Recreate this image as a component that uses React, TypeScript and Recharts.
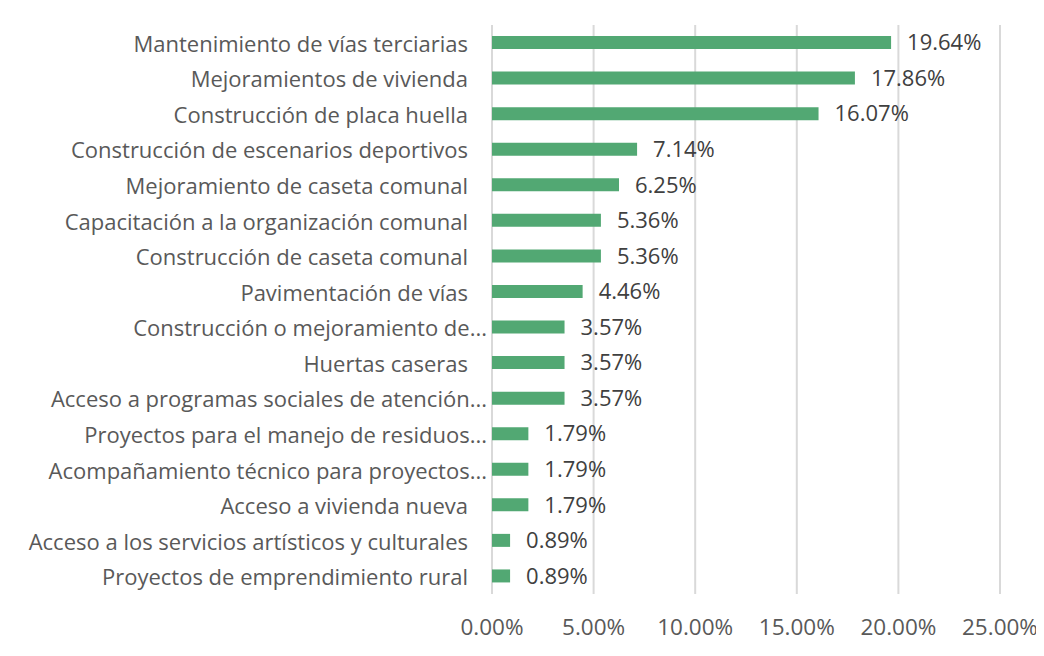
import React from "react";
import { BarChart, Bar, XAxis, YAxis, CartesianGrid, LabelList } from "recharts";

const categories = [
  "Mantenimiento de vías terciarias",
  "Mejoramientos de vivienda",
  "Construcción de placa huella",
  "Construcción de escenarios deportivos",
  "Mejoramiento de caseta comunal",
  "Capacitación a la organización comunal",
  "Construcción de caseta comunal",
  "Pavimentación de vías",
  "Construcción o mejoramiento de...",
  "Huertas caseras",
  "Acceso a programas sociales de atención...",
  "Proyectos para el manejo de residuos...",
  "Acompañamiento técnico para proyectos...",
  "Acceso a vivienda nueva",
  "Acceso a los servicios artísticos y culturales",
  "Proyectos de emprendimiento rural",
];

const values = [19.64, 17.86, 16.07, 7.14, 6.25, 5.36, 5.36, 4.46, 3.57, 3.57, 3.57, 1.79, 1.79, 1.79, 0.89, 0.89];

const xTicks = [0, 5, 10, 15, 20, 25];

const data = categories.map((name, i) => ({ name, value: values[i] }));

const FONT = "'Open Sans', sans-serif";

const CategoryTick = (props: any) => {
  const { x, y, payload } = props;
  const label: string = payload.value;
  const trunc = label.endsWith("...");
  return (
    <text
      x={x - (trunc ? 5 : 24)}
      y={y}
      textAnchor="end"
      dominantBaseline="central"
      fill="#595959"
      fontSize={22}
      fontFamily={FONT}
    >
      {label}
    </text>
  );
};

export default function App() {
  return (
    <div style={{ position: "relative", width: 1044, height: 656, marginLeft: -8, marginTop: -8, overflow: "hidden", background: "#fff" }}>
      <BarChart
        width={1044}
        height={656}
        data={data}
        layout="vertical"
        margin={{ top: 25, right: 44, bottom: 32, left: 0 }}
        barCategoryGap={0}
      >
        <rect x={7} y={5} width={1100} height={700} fill="none" stroke="#d0d0d0" strokeWidth={2} />
        <CartesianGrid horizontal={false} vertical={true} stroke="#d9d9d9" strokeWidth={2} />
        <XAxis
          type="number"
          domain={[0, 25]}
          ticks={xTicks}
          axisLine={false}
          tickLine={false}
          tickMargin={19}
          height={30}
          interval={0}
          tickFormatter={(v: number) => v.toFixed(2) + "%"}
          tick={{ fill: "#595959", fontSize: 22.5, fontFamily: FONT }}
        />
        <YAxis
          type="category"
          dataKey="name"
          width={492}
          axisLine={false}
          tickLine={false}
          tickSize={0}
          tickMargin={0}
          interval={0}
          tick={<CategoryTick />}
        />
        <Bar dataKey="value" fill="#52A873" barSize={13} isAnimationActive={false}>
          <LabelList
            dataKey="value"
            position="right"
            offset={16}
            formatter={(v: number) => v.toFixed(2) + "%"}
            fill="#404040"
            fontSize={22}
            fontFamily={FONT}
          />
        </Bar>
      </BarChart>
    </div>
  );
}
